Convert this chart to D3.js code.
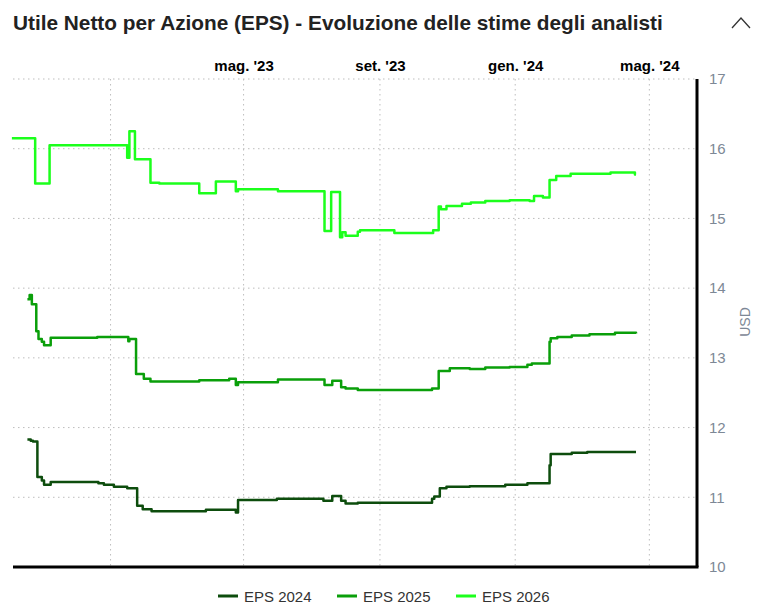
<!DOCTYPE html>
<html>
<head>
<meta charset="utf-8">
<script src="https://cdn.jsdelivr.net/npm/d3@7"></script>
<style>
body { margin: 0; background: #fff; font-family: "Liberation Sans", Arial, sans-serif; }
</style>
</head>
<body>
<div id="chart"></div>
<script>
var margin = {top: 79, right: 61, bottom: 47, left: 13},
	width = 758 - margin.left - margin.right,
	height = 614 - margin.top - margin.bottom;

var seriesNames = ["EPS 2024", "EPS 2025", "EPS 2026"];
var seriesColors = ["#0d4d0d", "#0a9f0a", "#1cff1c"];

var tickDates = ["2023-01-01", "2023-05-01", "2023-09-01", "2024-01-01", "2024-05-01"];
var tickLabels = ["", "mag. '23", "set. '23", "gen. '24", "mag. '24"];
var yTicks = [10, 11, 12, 13, 14, 15, 16, 17];

var eps2024 = [
	["2022-10-18", 11.83], ["2022-10-21", 11.81], ["2022-10-23", 11.80], ["2022-10-27", 11.29],
	["2022-10-31", 11.24], ["2022-11-02", 11.18], ["2022-11-08", 11.22], ["2022-12-21", 11.20],
	["2022-12-26", 11.18], ["2023-01-04", 11.15], ["2023-01-16", 11.13], ["2023-01-25", 10.88],
	["2023-01-30", 10.83], ["2023-02-07", 10.80], ["2023-03-28", 10.82], ["2023-04-24", 10.78],
	["2023-04-26", 10.96], ["2023-05-31", 10.98], ["2023-07-12", 10.95], ["2023-07-20", 11.02],
	["2023-07-28", 10.95], ["2023-08-01", 10.91], ["2023-08-12", 10.92], ["2023-10-18", 10.98],
	["2023-10-20", 11.01], ["2023-10-25", 11.13], ["2023-10-31", 11.15], ["2023-11-21", 11.16],
	["2023-12-23", 11.18], ["2024-01-12", 11.20], ["2024-02-01", 11.46], ["2024-02-02", 11.62],
	["2024-02-21", 11.64], ["2024-03-06", 11.65], ["2024-04-19", 11.65]
];

var eps2025 = [
	["2022-10-18", 13.84], ["2022-10-20", 13.90], ["2022-10-22", 13.77], ["2022-10-26", 13.38],
	["2022-10-28", 13.27], ["2022-10-31", 13.23], ["2022-11-02", 13.18], ["2022-11-08", 13.29],
	["2022-12-20", 13.30], ["2023-01-17", 13.24], ["2023-01-18", 13.27], ["2023-01-24", 12.77],
	["2023-01-31", 12.70], ["2023-02-06", 12.66], ["2023-03-22", 12.68], ["2023-04-18", 12.70],
	["2023-04-24", 12.61], ["2023-04-26", 12.65], ["2023-06-01", 12.69], ["2023-07-13", 12.61],
	["2023-07-20", 12.67], ["2023-07-28", 12.58], ["2023-08-01", 12.56], ["2023-08-12", 12.54],
	["2023-10-18", 12.56], ["2023-10-24", 12.81], ["2023-11-03", 12.85], ["2023-11-21", 12.84],
	["2023-12-05", 12.86], ["2023-12-27", 12.87], ["2024-01-12", 12.90], ["2024-01-16", 12.92],
	["2024-02-01", 13.23], ["2024-02-02", 13.28], ["2024-02-08", 13.30], ["2024-02-21", 13.32],
	["2024-03-08", 13.34], ["2024-03-31", 13.36], ["2024-04-19", 13.35]
];

var eps2026 = [
	["2022-10-04", 16.15], ["2022-10-25", 15.50], ["2022-11-07", 16.05], ["2023-01-16", 15.87],
	["2023-01-18", 16.25], ["2023-01-23", 15.85], ["2023-02-06", 15.51], ["2023-02-14", 15.50],
	["2023-03-22", 15.36], ["2023-04-06", 15.53], ["2023-04-24", 15.39], ["2023-04-26", 15.42],
	["2023-06-01", 15.39], ["2023-07-13", 14.82], ["2023-07-19", 15.38], ["2023-07-27", 14.73],
	["2023-07-29", 14.80], ["2023-08-01", 14.75], ["2023-08-12", 14.81], ["2023-08-14", 14.83],
	["2023-09-14", 14.79], ["2023-10-19", 14.83], ["2023-10-24", 15.17], ["2023-10-26", 15.13],
	["2023-10-31", 15.18], ["2023-11-14", 15.21], ["2023-11-22", 15.23], ["2023-12-05", 15.25],
	["2023-12-27", 15.26], ["2024-01-14", 15.25], ["2024-01-18", 15.32], ["2024-01-26", 15.30],
	["2024-02-01", 15.55], ["2024-02-07", 15.61], ["2024-02-20", 15.64], ["2024-03-27", 15.66],
	["2024-04-18", 15.63], ["2024-04-19", 15.63]
];

var parseDate = d3.utcParse("%Y-%m-%d");

var xScale = d3.scaleUtc()
	.domain([parseDate("2022-10-05"), parseDate("2024-06-13")])
	.range([0, width]);
var yScale = d3.scaleLinear().domain([10, 17]).range([height, 0]);

var svg = d3.select("#chart")
	.append("svg")
	.attr("width", 758)
	.attr("height", 614);

// title
svg.append("text")
	.attr("x", 13)
	.attr("y", 30)
	.style("font-size", "20.8px")
	.style("font-weight", "bold")
	.style("fill", "#222")
	.text("Utile Netto per Azione (EPS) - Evoluzione delle stime degli analisti");

svg.append("path")
	.attr("d", "M732,28 L741,18 L750,28")
	.attr("fill", "none")
	.attr("stroke", "#333")
	.attr("stroke-width", 1.3);

var g = svg.append("g")
	.attr("transform", "translate(" + margin.left + "," + margin.top + ")");

// grid
g.selectAll(".hgrid")
	.data(yTicks)
	.enter()
	.append("line")
	.attr("class", "hgrid")
	.attr("x1", 0)
	.attr("x2", width)
	.attr("y1", function(d) { return yScale(d); })
	.attr("y2", function(d) { return yScale(d); })
	.attr("stroke", "#bdbdbd")
	.attr("stroke-dasharray", "1.5,3.5");

g.selectAll(".vgrid")
	.data(tickDates)
	.enter()
	.append("line")
	.attr("class", "vgrid")
	.attr("x1", function(d) { return xScale(parseDate(d)); })
	.attr("x2", function(d) { return xScale(parseDate(d)); })
	.attr("y1", 0)
	.attr("y2", height)
	.attr("stroke", "#bdbdbd")
	.attr("stroke-dasharray", "1.5,3.5");

// top month labels
var xAxis = d3.axisTop(xScale)
	.tickValues(tickDates.map(parseDate))
	.tickSize(0)
	.tickFormat(function(d, i) { return tickLabels[i]; });

g.append("g")
	.attr("class", "x axis")
	.attr("transform", "translate(0,-5)")
	.call(xAxis)
	.call(function(a) { a.select(".domain").remove(); })
	.selectAll("text")
	.style("font-family", "'Liberation Sans', Arial, sans-serif")
	.style("font-size", "15px")
	.style("font-weight", "bold")
	.style("fill", "#000");

// right y axis
var yAxis = d3.axisRight(yScale)
	.tickValues(yTicks)
	.tickSize(0)
	.tickPadding(12)
	.tickFormat(d3.format("d"));

g.append("g")
	.attr("class", "y axis")
	.attr("transform", "translate(" + width + ",0)")
	.call(yAxis)
	.call(function(a) { a.select(".domain").remove(); })
	.selectAll("text")
	.style("font-family", "'Liberation Sans', Arial, sans-serif")
	.style("font-size", "15px")
	.style("fill", "#7d8896");

g.append("text")
	.attr("transform", "translate(" + (width + 53) + "," + (height / 2 - 1) + ") rotate(-90)")
	.attr("text-anchor", "middle")
	.style("font-size", "14px")
	.style("fill", "#7d8896")
	.text("USD");

// axis frame lines
g.append("line")
	.attr("x1", 0).attr("x2", width + 1.5)
	.attr("y1", height).attr("y2", height)
	.attr("stroke", "#000").attr("stroke-width", 3);
g.append("line")
	.attr("x1", width).attr("x2", width)
	.attr("y1", 0).attr("y2", height)
	.attr("stroke", "#000").attr("stroke-width", 3);

// series
var line = d3.line()
	.curve(d3.curveStepAfter)
	.x(function(d) { return xScale(parseDate(d[0])); })
	.y(function(d) { return yScale(d[1]); });

var allSeries = [eps2024, eps2025, eps2026];

g.selectAll(".series")
	.data(allSeries)
	.enter()
	.append("path")
	.attr("class", "series")
	.attr("d", line)
	.attr("fill", "none")
	.attr("stroke", function(d, i) { return seriesColors[i]; })
	.attr("stroke-width", 2.5)
	.attr("stroke-linejoin", "round");

// legend
var legend = svg.selectAll(".legend")
	.data(seriesNames)
	.enter()
	.append("g")
	.attr("class", "legend")
	.attr("transform", function(d, i) { return "translate(" + (218 + i * 119) + ",596)"; });

legend.append("line")
	.attr("x1", 0).attr("x2", 20)
	.attr("y1", 0).attr("y2", 0)
	.attr("stroke", function(d, i) { return seriesColors[i]; })
	.attr("stroke-width", 3);

legend.append("text")
	.attr("x", 26)
	.attr("y", 5.5)
	.style("font-size", "15px")
	.style("fill", "#333")
	.text(function(d) { return d; });
</script>
</body>
</html>
